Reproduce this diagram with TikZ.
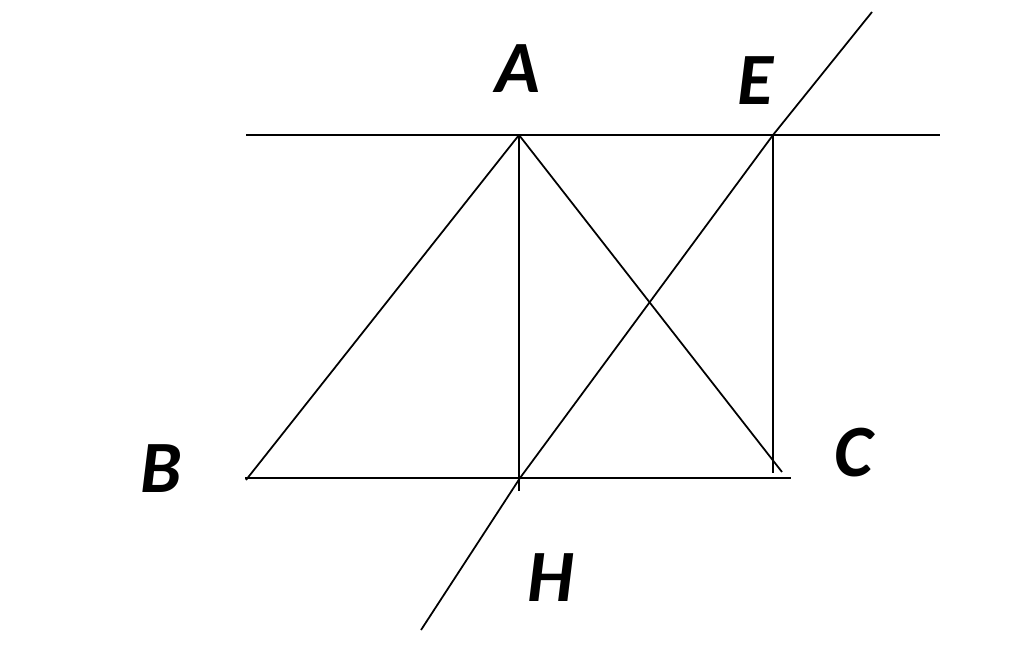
\documentclass[tikz,border=0pt]{standalone}
\usepackage{fontspec}
\setmainfont{Carlito}
\begin{document}
\begin{tikzpicture}[x=0.02cm,y=-0.02cm,
  seg/.style={line width=1pt,black},
  lab/.style={inner sep=0pt,font=\fontsize{42}{42}\selectfont\bfseries\itshape}]
\useasboundingbox (0,0) rectangle (1024,672);
\coordinate (A) at (519,135);
\coordinate (E) at (773,135);
\coordinate (B) at (246,480);
\coordinate (H) at (520,478);
\coordinate (C) at (782,472);
\coordinate (Ev) at (773,473);
\coordinate (L1) at (246,135);
\coordinate (L2) at (940,135);
\coordinate (B1) at (245,478);
\coordinate (B2) at (791,478);
\coordinate (Hv) at (519,491);
\coordinate (T) at (872,12);
\coordinate (D) at (421,630);
\draw[seg] (L1) -- (L2);
\draw[seg] (B1) -- (B2);
\draw[seg] (A) -- (Hv);
\draw[seg] (E) -- (Ev);
\draw[seg] (A) -- (B);
\draw[seg] (A) -- (C);
\draw[seg] (D) -- (H) -- (E) -- (T);
\node[lab] (lA) at (518,69) {A};
\node[lab] (lE) at (755,81) {E};
\node[lab] (lB) at (161,469) {B};
\node[lab] (lC) at (854,453) {C};
\node[lab] (lH) at (551,578) {H};
\end{tikzpicture}
\end{document}
